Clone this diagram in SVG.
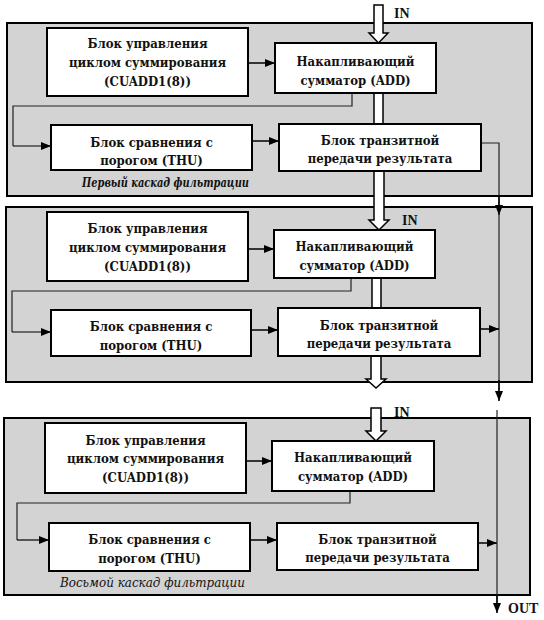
<svg xmlns="http://www.w3.org/2000/svg" width="544" height="620" viewBox="0 0 544 620">
<defs>
<marker id="ah" viewBox="0 0 10 8" refX="10" refY="4" markerWidth="10" markerHeight="8" markerUnits="userSpaceOnUse" orient="auto">
<path d="M0,0 L10,4 L0,8 Z" fill="#000"/>
</marker>
</defs>
<style>
.frame{fill:#d3d3d3;stroke:#000;stroke-width:2}
.blk{fill:#fff;stroke:#000;stroke-width:2}
.t{font-family:"DejaVu Serif Condensed","DejaVu Serif","Liberation Serif",serif;font-weight:bold;font-size:13px;text-anchor:middle;fill:#111}
.lbl{font-family:"Liberation Serif","DejaVu Serif",serif;font-weight:bold;font-size:14px;fill:#111}
.cap{font-family:"DejaVu Serif Condensed","DejaVu Serif",serif;font-style:italic;font-size:12px;fill:#111}
.ln{fill:none;stroke:#222;stroke-width:1.2}
.arr{fill:none;stroke:#000;stroke-width:1.5;marker-end:url(#ah)}
.pipe{fill:#fff;stroke:#000;stroke-width:1.5}
</style>
<rect width="544" height="620" fill="#fff"/>

<g id="cascade1">
<rect class="frame" x="7" y="23" width="525" height="173"/>
<text class="cap" x="82" y="187" textLength="167" lengthAdjust="spacingAndGlyphs" style="font-weight:bold">Первый каскад фильтрации</text>
</g>
<g id="cascade2">
<rect class="frame" x="6" y="207" width="526" height="175"/>
</g>
<g id="cascade8">
<rect class="frame" x="4" y="418" width="526" height="177"/>
<text class="cap" x="60" y="587" textLength="185" lengthAdjust="spacingAndGlyphs" style="font-size:13px">Восьмой каскад фильтрации</text>
</g>

<g id="connectors">
<path class="pipe" d="M374,5 H383 V33 H388 L378.5,43 L369,33 H374 Z"/>
<rect x="374" y="93" width="9" height="31" fill="#fff"/>
<path d="M374,93 V124 M383,93 V124" fill="none" stroke="#000" stroke-width="1.5"/>
<path class="pipe" d="M374,171 H384 V220 H389 L379,230 L369,220 H374 Z"/>
<line class="arr" x1="248" y1="63" x2="275" y2="63"/>
<path class="ln" d="M352,93 V106 H13 V146"/>
<path class="arr" d="M13,146 H51" style="stroke-width:1.2"/>
<line class="arr" x1="252" y1="141" x2="279" y2="141"/>
<path class="ln" d="M481,143 H499 V205"/>
<line class="arr" x1="499" y1="195" x2="499" y2="215"/>
<line class="ln" x1="499" y1="215" x2="499" y2="391"/>
<line class="arr" x1="499" y1="380" x2="499" y2="401"/>
<rect x="372" y="278" width="9" height="30" fill="#fff"/>
<path d="M372,278 V308 M381,278 V308" fill="none" stroke="#000" stroke-width="1.5"/>
<path class="pipe" d="M371,356 H381 V379 H386 L376,388 L366,379 H371 Z"/>
<line class="arr" x1="248" y1="249" x2="274" y2="249"/>
<path class="ln" d="M351,278 V291 H12 V332"/>
<path class="arr" d="M12,332 H51" style="stroke-width:1.2"/>
<line class="arr" x1="251" y1="330" x2="278" y2="330"/>
<line class="arr" x1="480" y1="329" x2="499" y2="329"/>
<path class="pipe" d="M371,408 H381 V431 H386 L376,441 L366,431 H371 Z"/>
<line class="arr" x1="246" y1="461" x2="272" y2="461"/>
<path class="ln" d="M350,491 V503 H17 V540"/>
<path class="arr" d="M17,540 H49" style="stroke-width:1.2"/>
<line class="arr" x1="250" y1="540" x2="277" y2="540"/>
<line class="arr" x1="478" y1="543" x2="497" y2="543"/>
<line class="ln" x1="497" y1="410" x2="497" y2="603"/>
<line class="arr" x1="497" y1="595" x2="497" y2="613"/>
</g>

<g id="labels">
<text class="lbl" x="394" y="18">IN</text>
<text class="lbl" x="402" y="225">IN</text>
<text class="lbl" x="394" y="417">IN</text>
<text class="lbl" x="508" y="613">OUT</text>
</g>

<g id="cuadd1">
<rect class="blk" x="47" y="28" width="201" height="68"/>
<text class="t" x="147.5" y="48">Блок управления</text>
<text class="t" x="147.5" y="67">циклом суммирования</text>
<text class="t" x="147.5" y="86">(CUADD1(8))</text>
</g>
<g id="add1">
<rect class="blk" x="275" y="43" width="161" height="50"/>
<text class="t" x="355.5" y="66">Накапливающий</text>
<text class="t" x="355.5" y="85">сумматор (ADD)</text>
</g>
<g id="thu1">
<rect class="blk" x="51" y="125" width="201" height="45"/>
<text class="t" x="151.5" y="147">Блок сравнения с</text>
<text class="t" x="151.5" y="165">порогом (THU)</text>
</g>
<g id="transit1">
<rect class="blk" x="279" y="124" width="202" height="47"/>
<text class="t" x="380" y="145">Блок транзитной</text>
<text class="t" x="380" y="163">передачи результата</text>
</g>

<g id="cuadd2">
<rect class="blk" x="47" y="212" width="201" height="69"/>
<text class="t" x="147.5" y="233">Блок управления</text>
<text class="t" x="147.5" y="252">циклом суммирования</text>
<text class="t" x="147.5" y="271">(CUADD1(8))</text>
</g>
<g id="add2">
<rect class="blk" x="274" y="230" width="161" height="48"/>
<text class="t" x="354.5" y="251">Накапливающий</text>
<text class="t" x="354.5" y="270">сумматор (ADD)</text>
</g>
<g id="thu2">
<rect class="blk" x="51" y="310" width="200" height="46"/>
<text class="t" x="151" y="331">Блок сравнения с</text>
<text class="t" x="151" y="350">порогом (THU)</text>
</g>
<g id="transit2">
<rect class="blk" x="278" y="308" width="202" height="48"/>
<text class="t" x="379" y="330">Блок транзитной</text>
<text class="t" x="379" y="348">передачи результата</text>
</g>

<g id="cuadd8">
<rect class="blk" x="45" y="423" width="201" height="70"/>
<text class="t" x="145.5" y="445">Блок управления</text>
<text class="t" x="145.5" y="463">циклом суммирования</text>
<text class="t" x="145.5" y="482">(CUADD1(8))</text>
</g>
<g id="add8">
<rect class="blk" x="272" y="441" width="162" height="50"/>
<text class="t" x="353" y="462">Накапливающий</text>
<text class="t" x="353" y="481">сумматор (ADD)</text>
</g>
<g id="thu8">
<rect class="blk" x="49" y="523" width="201" height="48"/>
<text class="t" x="149.5" y="544">Блок сравнения с</text>
<text class="t" x="149.5" y="563">порогом (THU)</text>
</g>
<g id="transit8">
<rect class="blk" x="277" y="523" width="201" height="47"/>
<text class="t" x="377.5" y="544">Блок транзитной</text>
<text class="t" x="377.5" y="562">передачи результата</text>
</g>
</svg>
